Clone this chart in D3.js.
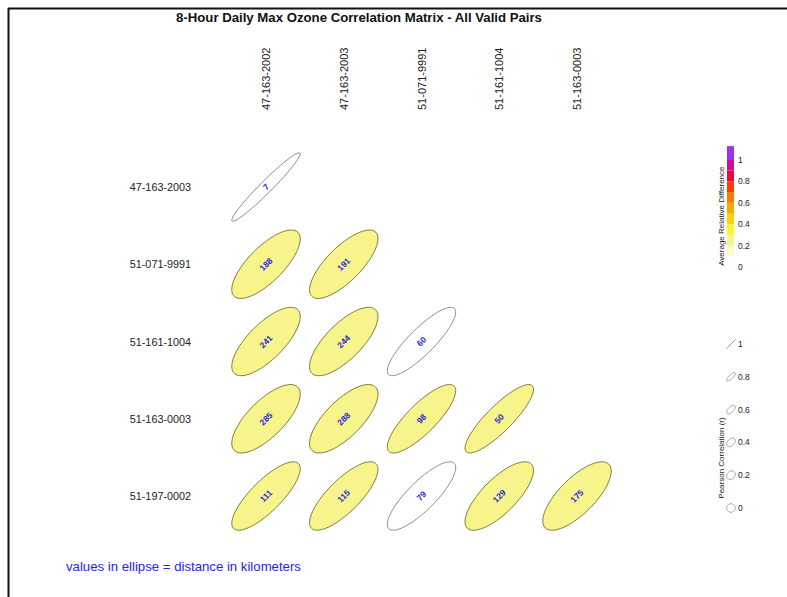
<!DOCTYPE html>
<html>
<head>
<meta charset="utf-8">
<script src="https://cdn.jsdelivr.net/npm/d3@7"></script>
<style>
  html, body { margin: 0; padding: 0; background: #fff; }
  svg { display: block; font-family: "Liberation Sans", Arial, Helvetica, sans-serif; }
</style>
</head>
<body>
<svg id="chart" width="787" height="597"></svg>
<script>
// Monitor site IDs
const colSites = ["47-163-2002", "47-163-2003", "51-071-9991", "51-161-1004", "51-163-0003"];
const rowSites = ["47-163-2003", "51-071-9991", "51-161-1004", "51-163-0003", "51-197-0002"];

// Lower-triangle pairs: row site, column site
const pairRow = ["47-163-2003",
  "51-071-9991", "51-071-9991",
  "51-161-1004", "51-161-1004", "51-161-1004",
  "51-163-0003", "51-163-0003", "51-163-0003", "51-163-0003",
  "51-197-0002", "51-197-0002", "51-197-0002", "51-197-0002", "51-197-0002"];
const pairCol = ["47-163-2002",
  "47-163-2002", "47-163-2003",
  "47-163-2002", "47-163-2003", "51-071-9991",
  "47-163-2002", "47-163-2003", "51-071-9991", "51-161-1004",
  "47-163-2002", "47-163-2003", "51-071-9991", "51-161-1004", "51-163-0003"];
// Pearson correlation (r) of each pair
const pairCorr = [0.97,
  0.74, 0.75,
  0.73, 0.73, 0.86,
  0.72, 0.72, 0.82, 0.86,
  0.80, 0.78, 0.83, 0.75, 0.73];
// Average relative difference of each pair
const pairDiff = [0.05,
  0.25, 0.25,
  0.25, 0.25, 0.05,
  0.25, 0.25, 0.25, 0.25,
  0.25, 0.25, 0.05, 0.25, 0.25];
// Distance between sites (km)
const pairDist = [7,
  188, 191,
  241, 244, 60,
  285, 288, 98, 50,
  111, 115, 79, 129, 175];

// Colour bar bins for average relative difference
const diffBreaks = [0, 0.1, 0.2, 0.3, 0.4, 0.5, 0.6, 0.7, 0.8, 0.9, 1.0, 1.13];
const diffColors = ["#ffffff", "#fbfbc8", "#f7f48c", "#fff231", "#ffd400", "#ffa800",
                    "#ff7a00", "#ff3c00", "#ee0a2c", "#cc1199", "#9933ee"];
const diffTicks = [0, 0.2, 0.4, 0.6, 0.8, 1];

// Correlation legend steps
const corrLegend = [1, 0.8, 0.6, 0.4, 0.2, 0];

const svg = d3.select("#chart");

// frame (top and left rules)
svg.append("line").attr("x1", 8).attr("x2", 787).attr("y1", 8.5).attr("y2", 8.5)
  .attr("stroke", "#111").attr("stroke-width", 2);
svg.append("line").attr("x1", 8.5).attr("x2", 8.5).attr("y1", 8).attr("y2", 597)
  .attr("stroke", "#111").attr("stroke-width", 2);

// title
svg.append("text").attr("x", 359).attr("y", 22).attr("text-anchor", "middle")
  .attr("font-size", 13.2).attr("font-weight", "bold").attr("fill", "#111")
  .text("8-Hour Daily Max Ozone Correlation Matrix - All Valid Pairs");

// scales
const x = d3.scalePoint().domain(colSites).range([266, 577]);
const y = d3.scalePoint().domain(rowSites).range([187, 496]);
const cell = d3.scaleLinear().domain([0, 1]).range([0, x.step()]);
const fill = d3.scaleThreshold().domain(diffBreaks.slice(1, -1)).range(diffColors);

// column labels
svg.append("g").selectAll("text").data(colSites).join("text")
  .attr("transform", d => `translate(${x(d) + 4},110) rotate(-90)`)
  .attr("font-size", 11).attr("fill", "#222").text(d => d);

// row labels
svg.append("g").selectAll("text").data(rowSites).join("text")
  .attr("x", 191).attr("y", d => y(d) + 4).attr("text-anchor", "end")
  .attr("font-size", 10.8).attr("fill", "#222").text(d => d);

// ellipse outline for correlation r, half-extent s (px)
function ellipsePath(r, s) {
  const dAng = Math.acos(Math.max(-1, Math.min(1, r)));
  const pts = d3.range(0, 101).map(i => {
    const a = (i / 100) * 2 * Math.PI;
    return [s * Math.cos(a + dAng / 2), -s * Math.cos(a - dAng / 2)];
  });
  return d3.line()(pts) + "Z";
}

const pairs = pairRow.map((r, i) => ({
  row: r, col: pairCol[i], r: pairCorr[i], diff: pairDiff[i], dist: pairDist[i]
}));

const cells = svg.append("g").selectAll("g").data(pairs).join("g")
  .attr("transform", d => `translate(${x(d.col)},${y(d.row)})`);

cells.append("path")
  .attr("d", d => ellipsePath(d.r, cell(0.44)))
  .attr("fill", d => fill(d.diff))
  .attr("stroke", d => d.diff < 0.1 ? "#8a8a8a" : "#7d7b35")
  .attr("stroke-width", 1);

cells.append("text")
  .attr("transform", "rotate(-45)")
  .attr("text-anchor", "middle").attr("dy", "0.35em")
  .attr("font-size", 8.5).attr("font-weight", "bold").attr("fill", "#2a2acc")
  .text(d => d.dist);

// colour bar
const cb = d3.scaleLinear().domain([0, 1]).range([267, 160]);
const bins = diffColors.map((c, i) => ({ lo: diffBreaks[i], hi: diffBreaks[i + 1], c }));
svg.append("g").selectAll("rect").data(bins).join("rect")
  .attr("x", 727).attr("width", 7)
  .attr("y", d => cb(d.hi)).attr("height", d => cb(d.lo) - cb(d.hi))
  .attr("fill", d => d.c);
svg.append("g").selectAll("text").data(diffTicks).join("text")
  .attr("x", 738).attr("y", d => cb(d) + 3)
  .attr("font-size", 8.5).attr("fill", "#222").text(d => d);
svg.append("text")
  .attr("transform", `translate(724,${(cb(0) + cb(0.95)) / 2}) rotate(-90)`)
  .attr("text-anchor", "middle").attr("font-size", 8).attr("fill", "#222")
  .text("Average Relative Difference");

// correlation legend
const ly = d3.scalePoint().domain(corrLegend).range([344, 508]);
const lg = svg.append("g").selectAll("g").data(corrLegend).join("g")
  .attr("transform", d => `translate(731,${ly(d)})`);
lg.append("path")
  .attr("d", d => ellipsePath(d, 4.3))
  .attr("fill", "none").attr("stroke", "#888").attr("stroke-width", 0.8);
lg.append("text").attr("x", 7).attr("y", 3)
  .attr("font-size", 8.5).attr("fill", "#222").text(d => d);
svg.append("text")
  .attr("transform", "translate(724,458) rotate(-90)")
  .attr("text-anchor", "middle").attr("font-size", 8).attr("fill", "#222")
  .text("Pearson Correlation (r)");

// footnote
svg.append("text").attr("x", 66).attr("y", 571)
  .attr("font-size", 13.2).attr("fill", "#2323ee")
  .text("values in ellipse = distance in kilometers");
</script>
</body>
</html>
